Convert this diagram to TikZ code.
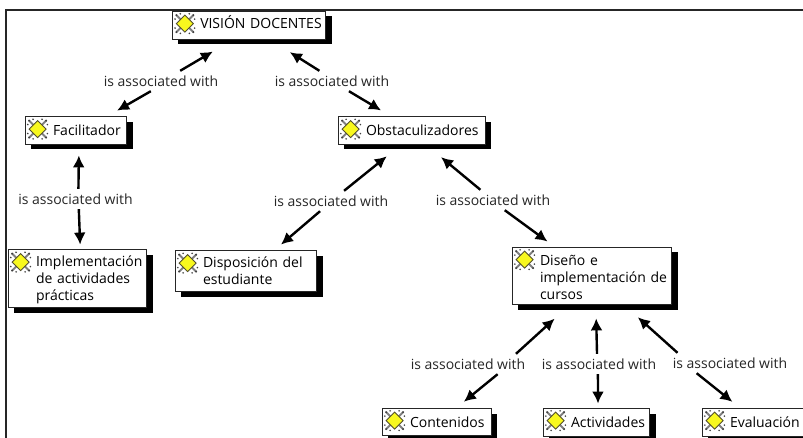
\documentclass[tikz,border=0pt]{standalone}
\usepackage{fontspec}
\setmainfont{Open Sans}
\usetikzlibrary{arrows.meta}
\usetikzlibrary{shadows}
\definecolor{iconyellow}{RGB}{248,248,30}
\newcommand{\labelfont}{\fontsize{14}{16.7}\selectfont}
\tikzset{
  concept/.style={draw=black!85, line width=.8pt, fill=white, inner xsep=3pt, inner ysep=0pt,
    align=left, font=\labelfont, execute at begin node={\leftskip=25pt},
    drop shadow={shadow xshift=6pt, shadow yshift=-5.5pt, fill=black, opacity=1}},
  relation/.style={font=\labelfont, inner xsep=3pt, inner ysep=0pt, minimum height=20pt, text=black!85},
  assoclink/.style={line width=2.4pt, -{Latex[length=12pt,width=12pt]}},
  conceptmark/.pic={
    \foreach \sx/\sy in {1/1,1/-1,-1/1,-1/-1} {
      \draw[black!50, line width=2pt] (\sx*3,\sy*3) -- (\sx*8.5,\sy*8.5);
      \fill[black!75] (\sx*9.8,\sy*4.5) circle (.9pt) (\sx*4.5,\sy*9.8) circle (.9pt) (\sx*8.5,\sy*8.5) circle (1.1pt);
    }
    \draw[fill=iconyellow, draw=black!55!olive, line width=.9pt] (-8.5,0) -- (0,-8.5) -- (8.5,0) -- (0,8.5) -- cycle;
  }
}
\begin{document}
\begin{tikzpicture}[x=1pt,y=-1pt]
        \useasboundingbox (0,0) rectangle (803,438);
        % frame, cut by the page on two sides
        \coordinate (framebl) at (6,440);
        \coordinate (frametl) at (6,10);
        \coordinate (frametr) at (805,10);
        \draw[line width=2pt, black!85] (framebl) -- (frametl) -- (frametr);
        %% concepts
        \node[concept, text width=147.5pt, minimum height=28pt, text height=10pt, text depth=3pt] (vision) at (249,25) {VISIÓN DOCENTES};
        \node[concept, text width=95.5pt, minimum height=27.5pt] (fac) at (75.75,130.25) {Facilitador};
        \node[concept, text width=141pt, minimum height=27.5pt] (obst) at (411.5,130.25) {Obstaculizadores};
        \node[concept, text width=132.5pt, minimum height=57.5pt, text height=14pt] (impl) at (77.25,278.25) {Implementación\\de actividades\\prácticas};
        \node[concept, text width=135.5pt, minimum height=41pt] (disp) at (245.75,271) {Disposición del\\estudiante};
        \node[concept, text width=153.5pt, minimum height=57.5pt, text height=14pt] (dis) at (591.75,275.75) {Diseño e\\implementación de\\cursos};
        \node[concept, text width=103pt, minimum height=27.5pt] (cont) at (436.5,421.75) {Contenidos};
        \node[concept, text width=100.5pt, minimum height=28pt] (act) at (596.25,422) {Actividades};
        \node[concept, text width=98pt, minimum height=28pt] (eval) at (754,422) {Evaluación};
        \foreach \nd in {vision,fac,obst,impl,disp,dis,cont,act,eval}
          \pic at ([xshift=13pt,yshift=-13pt]\nd.north west) {conceptmark};
        %% relations
        \node[relation] (r1) at (161,81) {is associated with};
        \node[relation] (r2) at (332,81) {is associated with};
        \node[relation] (r3) at (75.5,199) {is associated with};
        \node[relation] (r4) at (331,201) {is associated with};
        \node[relation] (r5) at (493,200) {is associated with};
        \node[relation] (r6) at (468,364) {is associated with};
        \node[relation] (r7) at (599,364) {is associated with};
        \node[relation] (r8) at (730,363) {is associated with};
        %% links
        \draw[assoclink, shorten >=24pt] (r1.28) -- (vision.223);
        \draw[assoclink, shorten >=11pt] (r1.225) -- (fac.24);
        \draw[assoclink, shorten >=24pt] (r2.141) -- (vision.325);
        \draw[assoclink, shorten >=11pt] (r2.329) -- (obst.146);
        \draw[assoclink, shorten >=11pt] (r3.74) -- (fac.283);
        \draw[assoclink, shorten >=4.5pt] (r3.288) -- (impl.84.5);
        \draw[assoclink, shorten >=19pt] (r4.38) -- (obst.235);
        \draw[assoclink, shorten >=8.5pt] (r4.223) -- (disp.36.5);
        \draw[assoclink, shorten >=20pt] (r5.141) -- (obst.315.5);
        \draw[assoclink, shorten >=8.6pt] (r5.319) -- (dis.142.7);
        \draw[assoclink, shorten >=20.5pt] (r6.12.3) -- (dis.233.5);
        \draw[assoclink, shorten >=9.2pt] (r6.341) -- (cont.35);
        \draw[assoclink, shorten >=13.5pt] (r7.101) -- (dis.278.4);
        \draw[assoclink, shorten >=4pt] (r7.264) -- (act.83);
        \draw[assoclink, shorten >=18.5pt] (r8.169.3) -- (dis.318.6);
        \draw[assoclink, shorten >=9.2pt] (r8.197.4) -- (eval.135);
      \end{tikzpicture}
\end{document}
